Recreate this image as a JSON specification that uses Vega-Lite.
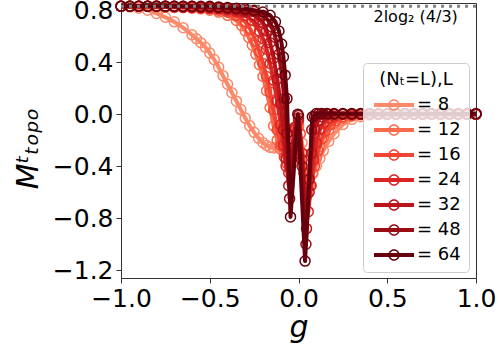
{
"$schema":"https://vega.github.io/schema/vega-lite/v6.json",
"width":355,"height":275,
"autosize":{"type":"none"},
"padding":{"left":121,"top":3,"right":22,"bottom":67},
"config":{"font":"DejaVu Sans","view":{"stroke":"#333","strokeWidth":1},
"axis":{"grid":false,"domain":false,"labelFontSize":25,"labelColor":"#000","tickColor":"#333","tickSize":5,"labelPadding":3,"labelFlush":false,"labelOverlap":false,"labelBound":false,"titleFontSize":30,"titleFontStyle":"italic","titleFontWeight":"normal","titleColor":"#000"}},
"data":{"values":[
{"L":8,"g":-1,"m":0.83},{"L":8,"g":-0.95,"m":0.825},{"L":8,"g":-0.9,"m":0.815},{"L":8,"g":-0.85,"m":0.8},{"L":8,"g":-0.8,"m":0.775},{"L":8,"g":-0.75,"m":0.745},{"L":8,"g":-0.7,"m":0.71},{"L":8,"g":-0.65,"m":0.665},{"L":8,"g":-0.6,"m":0.61},{"L":8,"g":-0.575,"m":0.58},{"L":8,"g":-0.55,"m":0.55},{"L":8,"g":-0.525,"m":0.515},{"L":8,"g":-0.5,"m":0.47},{"L":8,"g":-0.475,"m":0.42},{"L":8,"g":-0.45,"m":0.36},{"L":8,"g":-0.425,"m":0.295},{"L":8,"g":-0.4,"m":0.23},{"L":8,"g":-0.375,"m":0.165},{"L":8,"g":-0.35,"m":0.1},{"L":8,"g":-0.325,"m":0.035},{"L":8,"g":-0.3,"m":-0.03},{"L":8,"g":-0.275,"m":-0.09},{"L":8,"g":-0.25,"m":-0.14},{"L":8,"g":-0.225,"m":-0.185},{"L":8,"g":-0.2,"m":-0.22},{"L":8,"g":-0.18,"m":-0.24},{"L":8,"g":-0.16,"m":-0.255},{"L":8,"g":-0.14,"m":-0.26},{"L":8,"g":-0.12,"m":-0.25},{"L":8,"g":-0.1,"m":-0.2},{"L":8,"g":-0.08,"m":-0.14},{"L":8,"g":-0.06,"m":-0.12},{"L":8,"g":-0.04,"m":-0.16},{"L":8,"g":-0.02,"m":-0.14},{"L":8,"g":0,"m":-0.08},{"L":8,"g":0.02,"m":-0.22},{"L":8,"g":0.04,"m":-0.42},{"L":8,"g":0.06,"m":-0.5},{"L":8,"g":0.08,"m":-0.46},{"L":8,"g":0.1,"m":-0.4},{"L":8,"g":0.12,"m":-0.34},{"L":8,"g":0.14,"m":-0.28},{"L":8,"g":0.17,"m":-0.21},{"L":8,"g":0.2,"m":-0.15},{"L":8,"g":0.25,"m":-0.08},{"L":8,"g":0.3,"m":-0.04},{"L":8,"g":0.35,"m":-0.02},{"L":8,"g":0.4,"m":-0.01},{"L":8,"g":0.45,"m":0},{"L":8,"g":0.5,"m":0},{"L":8,"g":0.55,"m":0},{"L":8,"g":0.6,"m":0},{"L":8,"g":0.65,"m":0},{"L":8,"g":0.7,"m":0},{"L":8,"g":0.75,"m":0},{"L":8,"g":0.8,"m":0},{"L":8,"g":0.85,"m":0},{"L":8,"g":0.9,"m":0},{"L":8,"g":0.95,"m":0},{"L":8,"g":1,"m":0},
{"L":12,"g":-1,"m":0.83},{"L":12,"g":-0.95,"m":0.83},{"L":12,"g":-0.9,"m":0.83},{"L":12,"g":-0.85,"m":0.83},{"L":12,"g":-0.8,"m":0.825},{"L":12,"g":-0.75,"m":0.825},{"L":12,"g":-0.7,"m":0.82},{"L":12,"g":-0.65,"m":0.82},{"L":12,"g":-0.6,"m":0.815},{"L":12,"g":-0.55,"m":0.81},{"L":12,"g":-0.5,"m":0.8},{"L":12,"g":-0.45,"m":0.785},{"L":12,"g":-0.4,"m":0.76},{"L":12,"g":-0.35,"m":0.72},{"L":12,"g":-0.32,"m":0.68},{"L":12,"g":-0.3,"m":0.64},{"L":12,"g":-0.28,"m":0.59},{"L":12,"g":-0.26,"m":0.53},{"L":12,"g":-0.24,"m":0.46},{"L":12,"g":-0.22,"m":0.38},{"L":12,"g":-0.2,"m":0.29},{"L":12,"g":-0.18,"m":0.18},{"L":12,"g":-0.16,"m":0.05},{"L":12,"g":-0.14,"m":-0.09},{"L":12,"g":-0.12,"m":-0.2},{"L":12,"g":-0.1,"m":-0.27},{"L":12,"g":-0.08,"m":-0.3},{"L":12,"g":-0.06,"m":-0.32},{"L":12,"g":-0.04,"m":-0.3},{"L":12,"g":-0.02,"m":-0.18},{"L":12,"g":0,"m":-0.1},{"L":12,"g":0.02,"m":-0.3},{"L":12,"g":0.04,"m":-0.5},{"L":12,"g":0.06,"m":-0.55},{"L":12,"g":0.08,"m":-0.45},{"L":12,"g":0.1,"m":-0.34},{"L":12,"g":0.12,"m":-0.25},{"L":12,"g":0.14,"m":-0.18},{"L":12,"g":0.17,"m":-0.12},{"L":12,"g":0.2,"m":-0.07},{"L":12,"g":0.25,"m":-0.03},{"L":12,"g":0.3,"m":-0.015},{"L":12,"g":0.35,"m":-0.005},{"L":12,"g":0.4,"m":0},{"L":12,"g":0.45,"m":0},{"L":12,"g":0.5,"m":0},{"L":12,"g":0.55,"m":0},{"L":12,"g":0.6,"m":0},{"L":12,"g":0.65,"m":0},{"L":12,"g":0.7,"m":0},{"L":12,"g":0.75,"m":0},{"L":12,"g":0.8,"m":0},{"L":12,"g":0.85,"m":0},{"L":12,"g":0.9,"m":0},{"L":12,"g":0.95,"m":0},{"L":12,"g":1,"m":0},
{"L":16,"g":-1,"m":0.83},{"L":16,"g":-0.95,"m":0.83},{"L":16,"g":-0.9,"m":0.83},{"L":16,"g":-0.85,"m":0.83},{"L":16,"g":-0.8,"m":0.83},{"L":16,"g":-0.75,"m":0.825},{"L":16,"g":-0.7,"m":0.825},{"L":16,"g":-0.65,"m":0.82},{"L":16,"g":-0.6,"m":0.82},{"L":16,"g":-0.55,"m":0.815},{"L":16,"g":-0.5,"m":0.81},{"L":16,"g":-0.45,"m":0.8},{"L":16,"g":-0.4,"m":0.785},{"L":16,"g":-0.35,"m":0.76},{"L":16,"g":-0.3,"m":0.71},{"L":16,"g":-0.27,"m":0.65},{"L":16,"g":-0.24,"m":0.56},{"L":16,"g":-0.22,"m":0.48},{"L":16,"g":-0.2,"m":0.39},{"L":16,"g":-0.18,"m":0.29},{"L":16,"g":-0.16,"m":0.17},{"L":16,"g":-0.14,"m":0.03},{"L":16,"g":-0.12,"m":-0.12},{"L":16,"g":-0.1,"m":-0.24},{"L":16,"g":-0.08,"m":-0.33},{"L":16,"g":-0.065,"m":-0.38},{"L":16,"g":-0.05,"m":-0.34},{"L":16,"g":-0.03,"m":-0.2},{"L":16,"g":-0.01,"m":-0.1},{"L":16,"g":0.01,"m":-0.15},{"L":16,"g":0.03,"m":-0.45},{"L":16,"g":0.05,"m":-0.62},{"L":16,"g":0.07,"m":-0.55},{"L":16,"g":0.09,"m":-0.4},{"L":16,"g":0.11,"m":-0.28},{"L":16,"g":0.13,"m":-0.19},{"L":16,"g":0.15,"m":-0.13},{"L":16,"g":0.18,"m":-0.08},{"L":16,"g":0.21,"m":-0.05},{"L":16,"g":0.25,"m":-0.02},{"L":16,"g":0.3,"m":-0.01},{"L":16,"g":0.35,"m":0},{"L":16,"g":0.4,"m":0},{"L":16,"g":0.45,"m":0},{"L":16,"g":0.5,"m":0},{"L":16,"g":0.55,"m":0},{"L":16,"g":0.6,"m":0},{"L":16,"g":0.65,"m":0},{"L":16,"g":0.7,"m":0},{"L":16,"g":0.75,"m":0},{"L":16,"g":0.8,"m":0},{"L":16,"g":0.85,"m":0},{"L":16,"g":0.9,"m":0},{"L":16,"g":0.95,"m":0},{"L":16,"g":1,"m":0},
{"L":24,"g":-1,"m":0.83},{"L":24,"g":-0.95,"m":0.83},{"L":24,"g":-0.9,"m":0.83},{"L":24,"g":-0.85,"m":0.83},{"L":24,"g":-0.8,"m":0.83},{"L":24,"g":-0.75,"m":0.83},{"L":24,"g":-0.7,"m":0.825},{"L":24,"g":-0.65,"m":0.825},{"L":24,"g":-0.6,"m":0.82},{"L":24,"g":-0.55,"m":0.82},{"L":24,"g":-0.5,"m":0.815},{"L":24,"g":-0.45,"m":0.81},{"L":24,"g":-0.4,"m":0.8},{"L":24,"g":-0.35,"m":0.785},{"L":24,"g":-0.3,"m":0.76},{"L":24,"g":-0.26,"m":0.72},{"L":24,"g":-0.22,"m":0.64},{"L":24,"g":-0.2,"m":0.58},{"L":24,"g":-0.18,"m":0.5},{"L":24,"g":-0.16,"m":0.39},{"L":24,"g":-0.14,"m":0.26},{"L":24,"g":-0.12,"m":0.1},{"L":24,"g":-0.1,"m":-0.08},{"L":24,"g":-0.085,"m":-0.24},{"L":24,"g":-0.07,"m":-0.4},{"L":24,"g":-0.055,"m":-0.45},{"L":24,"g":-0.04,"m":-0.3},{"L":24,"g":-0.02,"m":-0.12},{"L":24,"g":0,"m":-0.05},{"L":24,"g":0.02,"m":-0.3},{"L":24,"g":0.04,"m":-0.65},{"L":24,"g":0.055,"m":-0.75},{"L":24,"g":0.07,"m":-0.55},{"L":24,"g":0.085,"m":-0.35},{"L":24,"g":0.1,"m":-0.22},{"L":24,"g":0.12,"m":-0.12},{"L":24,"g":0.14,"m":-0.07},{"L":24,"g":0.17,"m":-0.03},{"L":24,"g":0.2,"m":-0.015},{"L":24,"g":0.25,"m":0},{"L":24,"g":0.3,"m":0},{"L":24,"g":0.35,"m":0},{"L":24,"g":0.4,"m":0},{"L":24,"g":0.45,"m":0},{"L":24,"g":0.5,"m":0},{"L":24,"g":0.55,"m":0},{"L":24,"g":0.6,"m":0},{"L":24,"g":0.65,"m":0},{"L":24,"g":0.7,"m":0},{"L":24,"g":0.75,"m":0},{"L":24,"g":0.8,"m":0},{"L":24,"g":0.85,"m":0},{"L":24,"g":0.9,"m":0},{"L":24,"g":0.95,"m":0},{"L":24,"g":1,"m":0},
{"L":32,"g":-1,"m":0.83},{"L":32,"g":-0.95,"m":0.83},{"L":32,"g":-0.9,"m":0.83},{"L":32,"g":-0.85,"m":0.83},{"L":32,"g":-0.8,"m":0.83},{"L":32,"g":-0.75,"m":0.83},{"L":32,"g":-0.7,"m":0.83},{"L":32,"g":-0.65,"m":0.825},{"L":32,"g":-0.6,"m":0.825},{"L":32,"g":-0.55,"m":0.82},{"L":32,"g":-0.5,"m":0.82},{"L":32,"g":-0.45,"m":0.815},{"L":32,"g":-0.4,"m":0.81},{"L":32,"g":-0.35,"m":0.8},{"L":32,"g":-0.3,"m":0.785},{"L":32,"g":-0.25,"m":0.76},{"L":32,"g":-0.22,"m":0.73},{"L":32,"g":-0.2,"m":0.7},{"L":32,"g":-0.18,"m":0.64},{"L":32,"g":-0.16,"m":0.55},{"L":32,"g":-0.14,"m":0.43},{"L":32,"g":-0.12,"m":0.27},{"L":32,"g":-0.1,"m":0.08},{"L":32,"g":-0.085,"m":-0.12},{"L":32,"g":-0.07,"m":-0.34},{"L":32,"g":-0.055,"m":-0.55},{"L":32,"g":-0.04,"m":-0.35},{"L":32,"g":-0.02,"m":-0.1},{"L":32,"g":0,"m":-0.03},{"L":32,"g":0.02,"m":-0.35},{"L":32,"g":0.045,"m":-0.88},{"L":32,"g":0.06,"m":-0.6},{"L":32,"g":0.075,"m":-0.3},{"L":32,"g":0.09,"m":-0.12},{"L":32,"g":0.11,"m":-0.05},{"L":32,"g":0.13,"m":-0.02},{"L":32,"g":0.16,"m":0},{"L":32,"g":0.2,"m":0},{"L":32,"g":0.25,"m":0},{"L":32,"g":0.3,"m":0},{"L":32,"g":0.35,"m":0},{"L":32,"g":0.4,"m":0},{"L":32,"g":0.45,"m":0},{"L":32,"g":0.5,"m":0},{"L":32,"g":0.55,"m":0},{"L":32,"g":0.6,"m":0},{"L":32,"g":0.65,"m":0},{"L":32,"g":0.7,"m":0},{"L":32,"g":0.75,"m":0},{"L":32,"g":0.8,"m":0},{"L":32,"g":0.85,"m":0},{"L":32,"g":0.9,"m":0},{"L":32,"g":0.95,"m":0},{"L":32,"g":1,"m":0},
{"L":48,"g":-1,"m":0.83},{"L":48,"g":-0.95,"m":0.83},{"L":48,"g":-0.9,"m":0.83},{"L":48,"g":-0.85,"m":0.83},{"L":48,"g":-0.8,"m":0.83},{"L":48,"g":-0.75,"m":0.83},{"L":48,"g":-0.7,"m":0.83},{"L":48,"g":-0.65,"m":0.83},{"L":48,"g":-0.6,"m":0.83},{"L":48,"g":-0.55,"m":0.825},{"L":48,"g":-0.5,"m":0.825},{"L":48,"g":-0.45,"m":0.82},{"L":48,"g":-0.4,"m":0.815},{"L":48,"g":-0.35,"m":0.81},{"L":48,"g":-0.3,"m":0.8},{"L":48,"g":-0.25,"m":0.79},{"L":48,"g":-0.2,"m":0.76},{"L":48,"g":-0.17,"m":0.72},{"L":48,"g":-0.15,"m":0.67},{"L":48,"g":-0.13,"m":0.59},{"L":48,"g":-0.11,"m":0.46},{"L":48,"g":-0.095,"m":0.32},{"L":48,"g":-0.08,"m":0.12},{"L":48,"g":-0.065,"m":-0.15},{"L":48,"g":-0.05,"m":-0.65},{"L":48,"g":-0.025,"m":-0.25},{"L":48,"g":0,"m":-0.01},{"L":48,"g":0.02,"m":-0.4},{"L":48,"g":0.042,"m":-1},{"L":48,"g":0.06,"m":-0.5},{"L":48,"g":0.075,"m":-0.12},{"L":48,"g":0.09,"m":-0.02},{"L":48,"g":0.11,"m":0},{"L":48,"g":0.14,"m":0},{"L":48,"g":0.17,"m":0},{"L":48,"g":0.2,"m":0},{"L":48,"g":0.25,"m":0},{"L":48,"g":0.3,"m":0},{"L":48,"g":0.35,"m":0},{"L":48,"g":0.4,"m":0},{"L":48,"g":0.45,"m":0},{"L":48,"g":0.5,"m":0},{"L":48,"g":0.55,"m":0},{"L":48,"g":0.6,"m":0},{"L":48,"g":0.65,"m":0},{"L":48,"g":0.7,"m":0},{"L":48,"g":0.75,"m":0},{"L":48,"g":0.8,"m":0},{"L":48,"g":0.85,"m":0},{"L":48,"g":0.9,"m":0},{"L":48,"g":0.95,"m":0},{"L":48,"g":1,"m":0},
{"L":64,"g":-1,"m":0.83},{"L":64,"g":-0.95,"m":0.83},{"L":64,"g":-0.9,"m":0.83},{"L":64,"g":-0.85,"m":0.83},{"L":64,"g":-0.8,"m":0.83},{"L":64,"g":-0.75,"m":0.83},{"L":64,"g":-0.7,"m":0.83},{"L":64,"g":-0.65,"m":0.83},{"L":64,"g":-0.6,"m":0.83},{"L":64,"g":-0.55,"m":0.83},{"L":64,"g":-0.5,"m":0.83},{"L":64,"g":-0.45,"m":0.825},{"L":64,"g":-0.4,"m":0.82},{"L":64,"g":-0.35,"m":0.815},{"L":64,"g":-0.3,"m":0.81},{"L":64,"g":-0.25,"m":0.8},{"L":64,"g":-0.2,"m":0.785},{"L":64,"g":-0.16,"m":0.76},{"L":64,"g":-0.13,"m":0.71},{"L":64,"g":-0.11,"m":0.64},{"L":64,"g":-0.095,"m":0.54},{"L":64,"g":-0.085,"m":0.44},{"L":64,"g":-0.075,"m":0.3},{"L":64,"g":-0.065,"m":0.12},{"L":64,"g":-0.045,"m":-0.79},{"L":64,"g":-0.004,"m":0},{"L":64,"g":0.037,"m":-1.13},{"L":64,"g":0.078,"m":-0.02},{"L":64,"g":0.1,"m":0.005},{"L":64,"g":0.13,"m":0.005},{"L":64,"g":0.16,"m":0.005},{"L":64,"g":0.2,"m":0.005},{"L":64,"g":0.25,"m":0.005},{"L":64,"g":0.3,"m":0.005},{"L":64,"g":0.35,"m":0.005},{"L":64,"g":0.4,"m":0.005},{"L":64,"g":0.45,"m":0.005},{"L":64,"g":0.5,"m":0.005},{"L":64,"g":0.55,"m":0.005},{"L":64,"g":0.6,"m":0.005},{"L":64,"g":0.65,"m":0.005},{"L":64,"g":0.7,"m":0.005},{"L":64,"g":0.75,"m":0.005},{"L":64,"g":0.8,"m":0.005},{"L":64,"g":0.85,"m":0.005},{"L":64,"g":0.9,"m":0.005},{"L":64,"g":0.95,"m":0.005},{"L":64,"g":1,"m":0.005}
]},
"layer":[
{"encoding":{
"x":{"field":"g","type":"quantitative","scale":{"domain":[-1,1],"nice":false,"zero":false},"axis":{"values":[-1,-0.5,0,0.5,1],"format":".1f","title":"g","titleY":58,"titleBaseline":"alphabetic"}},
"y":{"field":"m","type":"quantitative","scale":{"domain":[-1.26,0.855],"nice":false,"zero":false},"axis":{"values":[0.8,0.4,0,-0.4,-0.8,-1.2],"format":".1f","title":"Mᵗₜₒₚₒ","titleX":-93,"titleY":145,"titleAlign":"center","titleBaseline":"middle","titleAngle":270}},
"color":{"field":"L","type":"ordinal","scale":{"domain":[8,12,16,24,32,48,64],"range":["#fc8a6a","#fb6a4a","#f14432","#d92623","#bc141a","#990c13","#67000d"]},
"legend":{"title":"(Nₜ=L),L","orient":"none","legendX":242,"legendY":60,"direction":"vertical","fillColor":"rgba(255,255,255,0.8)","strokeColor":"#cccccc","cornerRadius":4,"padding":8,"titleFontSize":18,"titleFontWeight":"normal","titleColor":"#000","titleAnchor":"middle","titlePadding":7,"labelFontSize":18,"labelColor":"#000","labelExpr":"'= ' + datum.label","symbolType":"M-4,-0.4H4V0.4H-4ZM1.15,0A1.15,1.15,0,1,1,-1.15,0A1.15,1.15,0,1,1,1.15,0ZM0.85,0A0.85,0.85,0,1,0,-0.85,0A0.85,0.85,0,1,0,0.85,0Z","symbolSize":100,"symbolOffset":14,"labelOffset":14,"rowPadding":7,"symbolStrokeWidth":0,
"encode":{"symbols":{"update":{"fill":{"scale":"color","field":"value"},"opacity":{"value":1},"strokeWidth":{"value":0}}}}}}},
"layer":[
{"transform":[{"filter":"datum.L==8"}],"layer":[{"mark":{"type":"line","strokeWidth":4,"strokeJoin":"round"}},{"mark":{"type":"point","filled":false,"size":100,"strokeWidth":1.5,"opacity":1}}]},
{"transform":[{"filter":"datum.L==12"}],"layer":[{"mark":{"type":"line","strokeWidth":4,"strokeJoin":"round"}},{"mark":{"type":"point","filled":false,"size":100,"strokeWidth":1.5,"opacity":1}}]},
{"transform":[{"filter":"datum.L==16"}],"layer":[{"mark":{"type":"line","strokeWidth":4,"strokeJoin":"round"}},{"mark":{"type":"point","filled":false,"size":100,"strokeWidth":1.5,"opacity":1}}]},
{"transform":[{"filter":"datum.L==24"}],"layer":[{"mark":{"type":"line","strokeWidth":4,"strokeJoin":"round"}},{"mark":{"type":"point","filled":false,"size":100,"strokeWidth":1.5,"opacity":1}}]},
{"transform":[{"filter":"datum.L==32"}],"layer":[{"mark":{"type":"line","strokeWidth":4,"strokeJoin":"round"}},{"mark":{"type":"point","filled":false,"size":100,"strokeWidth":1.5,"opacity":1}}]},
{"transform":[{"filter":"datum.L==48"}],"layer":[{"mark":{"type":"line","strokeWidth":4,"strokeJoin":"round"}},{"mark":{"type":"point","filled":false,"size":100,"strokeWidth":1.5,"opacity":1}}]},
{"transform":[{"filter":"datum.L==64"}],"layer":[{"mark":{"type":"line","strokeWidth":4,"strokeJoin":"round"}},{"mark":{"type":"point","filled":false,"size":100,"strokeWidth":1.5,"opacity":1}}]}
]},
{"data":{"values":[{"m":0.83}]},"mark":{"type":"rule","color":"#808080","strokeWidth":3,"strokeDash":[3,5]},"encoding":{"y":{"field":"m","type":"quantitative"}}},
{"data":{"values":[{"g":0.66,"m":0.745,"t":"2log₂ (4/3)"}]},"mark":{"type":"text","fontSize":16,"color":"#000","align":"center","baseline":"middle"},"encoding":{"x":{"field":"g","type":"quantitative"},"y":{"field":"m","type":"quantitative"},"text":{"field":"t"}}}
]
}
